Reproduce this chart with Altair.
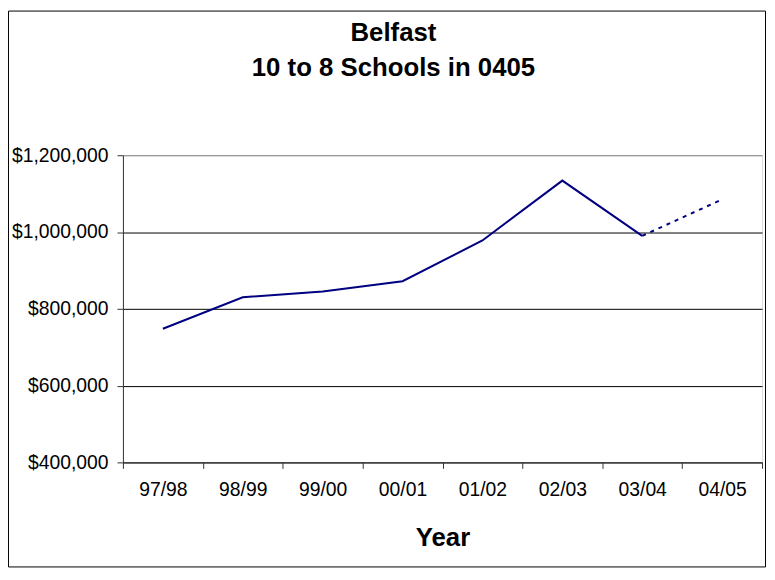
import altair as alt
import pandas as pd

years = ["97/98", "98/99", "99/00", "00/01", "01/02", "02/03", "03/04", "04/05"]
values = [748000, 830000, 845000, 872000, 978000, 1134000, 990000, 1085000]
y_ticks = [400000, 600000, 800000, 1000000, 1200000]
title_lines = ["Belfast", "10 to 8 Schools in 0405"]
x_title = "Year"

df = pd.DataFrame({"year": years, "value": values})
solid_df = df.iloc[:7]
dashed_df = df.iloc[6:]

FONT = "Liberation Sans"
NAVY = "#000080"

x_enc = alt.X(
    "year:N",
    sort=years,
    scale=alt.Scale(type="band", paddingInner=0, paddingOuter=0),
    axis=alt.Axis(
        title=x_title,
        labelAngle=0,
        tickBand="extent",
        labelFontSize=19.5,
        labelFont=FONT,
        labelColor="black",
        labelPadding=12,
        tickSize=6,
        tickColor="#333333",
        domainColor="#333333",
        titleFont=FONT,
        titleFontSize=26,
        titleFontWeight="bold",
        titleColor="black",
        titleBaseline="alphabetic",
        titleY=84,
        grid=False,
    ),
)
y_enc = alt.Y(
    "value:Q",
    scale=alt.Scale(domain=[400000, 1200000], nice=False, zero=False),
    axis=alt.Axis(
        title=None,
        values=y_ticks,
        format="$,.0f",
        labelFontSize=19.5,
        labelFont=FONT,
        labelColor="black",
        labelPadding=9,
        tickSize=6,
        tickColor="#333333",
        domainColor="#333333",
        grid=True,
        gridColor=alt.condition("datum.value == 1200000", alt.value("#808080"), alt.value("black")),
        gridWidth=1,
    ),
)

solid = alt.Chart(solid_df).mark_line(color=NAVY, strokeWidth=2).encode(x=x_enc, y=y_enc)
dashed = alt.Chart(dashed_df).mark_line(color=NAVY, strokeWidth=2, strokeDash=[4, 5]).encode(
    x=x_enc, y=y_enc
)

frame = alt.Chart(alt.Data(values=[{"k": 1}])).mark_rect(
    fillOpacity=0, stroke="black", strokeWidth=1
).encode(
    x=alt.value(-115.5), x2=alt.value(648.5), y=alt.value(-145.5), y2=alt.value(415.5)
)

chart = (
    alt.layer(frame, solid, dashed)
    .properties(
        width=645,
        height=310,
        title=alt.TitleParams(
            text=title_lines,
            font=FONT,
            fontSize=26,
            fontWeight="bold",
            color="black",
            anchor="middle",
            frame="group",
            lineHeight=35,
            dx=-49.5,
            dy=71,
            offset=0,
        ),
        autosize=alt.AutoSizeParams(type="none"),
        padding={"left": 116, "top": 146, "right": 5, "bottom": 108},
    )
    .configure_view(stroke="#808080", strokeWidth=1)
    .configure(background="white")
)

chart.save("out.html", embed_options={"renderer": "svg", "actions": False})
